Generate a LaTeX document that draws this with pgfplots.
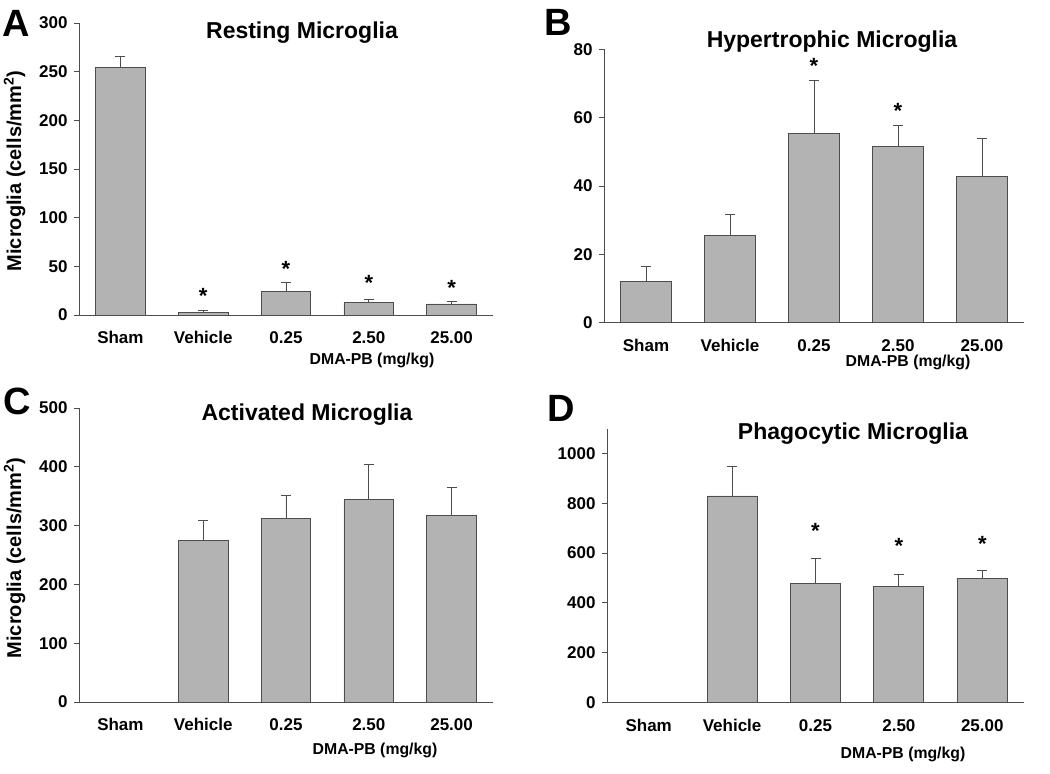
\documentclass[border=0pt]{standalone}
\usepackage{fontspec}
\setmainfont{Liberation Sans}
\usepackage{pgfplots}
\pgfplotsset{compat=1.18}
\definecolor{barfill}{HTML}{B3B3B3}
\definecolor{baredge}{HTML}{4D4D4D}
\definecolor{axcol}{HTML}{4D4D4D}
\pgfplotsset{
 panel/.style={
  scale only axis, clip=false, anchor=south west,
  xmin=-0.5, xmax=4.5, ymin=0,
  axis x line*=bottom, axis y line*=left,
  axis line style={draw=axcol, line width=0.9pt},
  xtick={0,1,2,3,4},
  xticklabels={Sham,Vehicle,0.25,2.50,25.00},
  x tick style={draw=none},
  y tick style={draw=axcol, line width=0.9pt},
  tick align=outside, major tick length=5pt,
  ticklabel style={font=\fontsize{17}{17}\selectfont\bfseries},
  /pgf/number format/assume math mode=true,
  /pgf/number format/1000 sep={},
  yticklabel style={xshift=-3pt},
  xticklabel style={yshift=-8pt, text height=12.3pt, text depth=0pt},
  ybar, bar width=0.6,
 },
 bars/.style={fill=barfill, draw=baredge, line width=0.9pt,
   error bars/.cd, y dir=plus, y explicit,
   error bar style={draw=baredge, line width=0.9pt},
   error mark options={draw=baredge, line width=0.9pt, mark size=5pt, rotate=90}},
}
\tikzset{
 star/.style={font=\fontsize{22}{22}\selectfont\bfseries, yshift=-4pt, inner sep=0pt},
 ttl/.style={font=\fontsize{23}{23}\selectfont\bfseries},
 xlab/.style={font=\fontsize{15.8}{16}\selectfont\bfseries},
 ylab/.style={font=\fontsize{20}{20}\selectfont\bfseries, rotate=90},
 plab/.style={font=\fontsize{38}{38}\selectfont\bfseries},
}
\begin{document}
\begin{tikzpicture}
\useasboundingbox (0,0) rectangle (1050pt,774pt);

% Panel A
\begin{axis}[panel, at={(79pt,459pt)}, width=414pt, height=292pt,
  ymax=300, ytick={0,50,...,300}]
\addplot+[bars] coordinates {(0,254) +- (0,12) (1,3) +- (0,1.5) (2,24) +- (0,9) (3,12.6) +- (0,3.8) (4,11.3) +- (0,2.7)};
\node[star] at (axis cs:1,23.9) {*};
\node[star] at (axis cs:2,51.6) {*};
\node[star] at (axis cs:3,37) {*};
\node[star] at (axis cs:4,32.4) {*};
\end{axis}

% Panel B
\begin{axis}[panel, at={(604pt,451.3pt)}, width=420pt, height=273.4pt,
  ymax=80, ytick={0,20,...,80}]
\addplot+[bars] coordinates {(0,12.2) +- (0,4.2) (1,25.4) +- (0,6.3) (2,55.5) +- (0,15.5) (3,51.7) +- (0,6) (4,42.7) +- (0,11.2)};
\node[star] at (axis cs:2,76.3) {*};
\node[star] at (axis cs:3,63.1) {*};
\end{axis}

% Panel C
\begin{axis}[panel, at={(79pt,72pt)}, width=414pt, height=294pt,
  ymax=500, ytick={0,100,...,500}]
\addplot+[bars] coordinates {(1,274) +- (0,34) (2,312) +- (0,40) (3,344) +- (0,60) (4,317.5) +- (0,47.5)};
\end{axis}

% Panel D
\begin{axis}[panel, at={(607pt,71.7pt)}, width=417pt, height=273.6pt,
  ymax=1100, ytick={0,200,...,1000}]
\addplot+[bars] coordinates {(1,829.5) +- (0,120.5) (2,478) +- (0,101) (3,464) +- (0,52) (4,498.6) +- (0,30.4)};
\node[star] at (axis cs:2,707) {*};
\node[star] at (axis cs:3,643) {*};
\node[star] at (axis cs:4,653) {*};
\end{axis}

% titles
\node[ttl] at (302pt,741pt) {Resting Microglia};
\node[ttl] at (832pt,732pt) {Hypertrophic Microglia};
\node[ttl] at (307pt,359pt) {Activated Microglia};
\node[ttl] at (853pt,340pt) {Phagocytic Microglia};
% x labels
\node[xlab] at (372pt,414pt) {DMA-PB (mg/kg)};
\node[xlab] at (908pt,412pt) {DMA-PB (mg/kg)};
\node[xlab] at (375pt,24pt) {DMA-PB (mg/kg)};
\node[xlab] at (903pt,20pt) {DMA-PB (mg/kg)};
% y labels
\node[ylab] at (14.5pt,603pt) {Microglia (cells/mm\textsuperscript{2})};
\node[ylab] at (14.5pt,216pt) {Microglia (cells/mm\textsuperscript{2})};
% panel letters
\node[plab] at (16pt,751pt) {A};
\node[plab] at (558pt,752pt) {B};
\node[plab] at (17pt,373pt) {C};
\node[plab] at (561pt,366pt) {D};
\end{tikzpicture}
\end{document}
